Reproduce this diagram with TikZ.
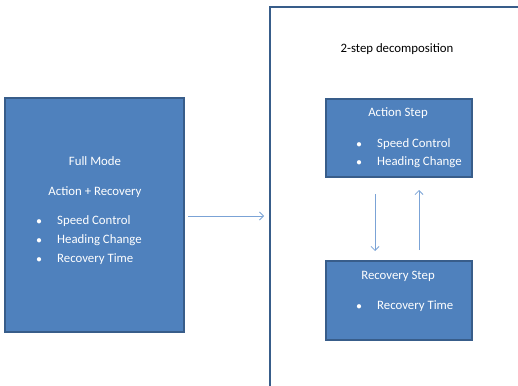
\documentclass[tikz,border=0pt]{standalone}
\usepackage{fontspec}
\setmainfont{Carlito}
\usetikzlibrary{arrows.meta}
\definecolor{boxfill}{HTML}{4F81BD}
\definecolor{boxline}{HTML}{385D8A}
\definecolor{arrowc}{HTML}{7BA3D6}
\tikzset{
  x=1pt,y=-1pt,
  bluebox/.style={draw=boxline,fill=boxfill,line width=1.5pt},
  wtext/.style={text=white,font=\fontsize{12.8}{15}\selectfont,inner sep=0pt,anchor=base},
  btext/.style={text=white,font=\fontsize{12.8}{15}\selectfont,inner sep=0pt,anchor=base west},
  bul/.style={text=white,font=\fontsize{11}{13}\selectfont,inner sep=0pt,anchor=base},
  conn/.style={draw=arrowc,line width=0.8pt,-{Straight Barb[length=4pt,width=8pt]}}
}
\begin{document}
\begin{tikzpicture}
\useasboundingbox (0,0) rectangle (518,385);
% outer frame
\draw[boxline,line width=1.8pt] (270,390) -- (270,7) -- (525,7);
\node[text=black,font=\fontsize{12.8}{15}\selectfont,inner sep=0pt,anchor=base] (title) at (397,53) {2-step decomposition};
% left box
\draw[bluebox] (5,98) rectangle (184,332);
\node[wtext] (fm1) at (95,165) {Full Mode};
\node[wtext] (fm2) at (95,195) {Action + Recovery};
\node[bul] (b1) at (39,224) {$\bullet$};
\node[btext] (t1) at (57,224) {Speed Control};
\node[bul] (b2) at (39,243) {$\bullet$};
\node[btext] (t2) at (57,243) {Heading Change};
\node[bul] (b3) at (39,262) {$\bullet$};
\node[btext] (t3) at (57,262) {Recovery Time};
% action step
\draw[bluebox] (326,99) rectangle (472,177);
\node[wtext] (as) at (398,116) {Action Step};
\node[bul] (b4) at (359,147) {$\bullet$};
\node[btext] (t4) at (377,147) {Speed Control};
\node[bul] (b5) at (359,165) {$\bullet$};
\node[btext] (t5) at (377,165) {Heading Change};
% recovery step
\draw[bluebox] (326,261) rectangle (472,340);
\node[wtext] (rs) at (398,279) {Recovery Step};
\node[bul] (b6) at (359,309) {$\bullet$};
\node[btext] (t6) at (377,309) {Recovery Time};
% arrows
\coordinate (h1) at (188,216);
\coordinate (h2) at (264,216);
\coordinate (d1) at (375,194);
\coordinate (d2) at (375,251);
\coordinate (u1) at (419,250);
\coordinate (u2) at (419,190);
\draw[conn] (h1) -- (h2);
\draw[conn] (d1) -- (d2);
\draw[conn] (u1) -- (u2);
\end{tikzpicture}
\end{document}
